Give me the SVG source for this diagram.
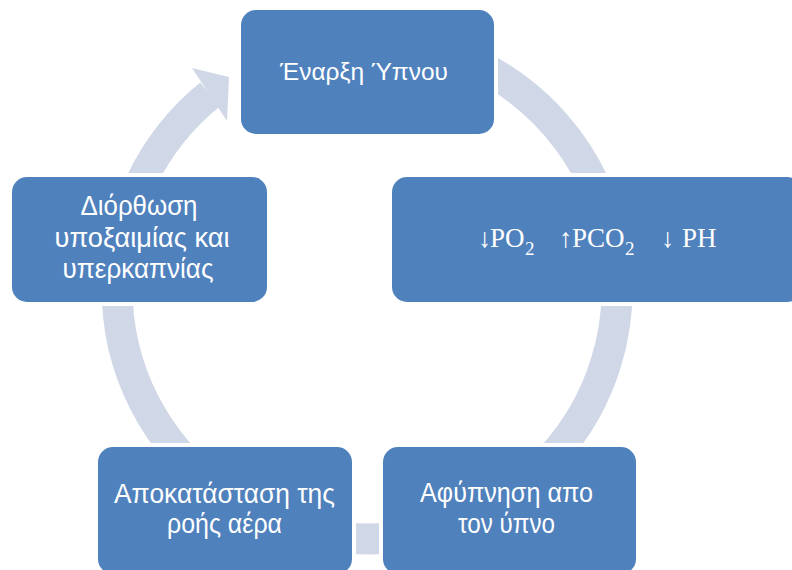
<svg xmlns="http://www.w3.org/2000/svg" width="792" height="570" viewBox="0 0 792 570">
<style>
.box{fill:#4F81BD;stroke:#FFFFFF;stroke-width:8;paint-order:stroke}
.t{font-family:"Liberation Sans","Noto Sans",sans-serif;font-size:27px;fill:#FFFFFF;text-anchor:middle}
.s{font-family:"Liberation Serif","DejaVu Serif",serif;font-size:27px;fill:#FFFFFF}
.sub{font-size:19px}
.ring{fill:none;stroke:#D0D7E7;stroke-width:31}
</style>
<rect width="792" height="570" fill="#FFFFFF"/>
<g id="connectors">
<path class="ring" d="M 367 39 A 250 250 0 1 1 210 94.5"/>
<polygon points="192,68 229,77 227,121" fill="#D0D7E7"/>
</g>
<g id="node-start">
<rect class="box" x="241" y="10" width="253" height="124" rx="15"/>
<text class="t" x="364" y="80" style="font-size:24.5px" textLength="168" lengthAdjust="spacingAndGlyphs">Έναρξη Ύπνου</text>
</g>
<g id="node-gases">
<rect class="box" x="392" y="177" width="410" height="125" rx="15"/>
<text class="s" y="247"><tspan x="478">↓</tspan><tspan x="490">PO</tspan><tspan class="sub" x="525" y="255">2</tspan><tspan x="559" y="247">↑</tspan><tspan x="572">PCO</tspan><tspan class="sub" x="625" y="255">2</tspan><tspan x="661" y="247">↓</tspan><tspan x="682">PH</tspan></text>
</g>
<g id="node-arousal">
<rect class="box" x="383" y="447" width="253" height="127" rx="15"/>
<text class="t" x="506.5" y="502" textLength="173" lengthAdjust="spacingAndGlyphs">Αφύπνηση απο</text>
<text class="t" x="506.5" y="533" textLength="97" lengthAdjust="spacingAndGlyphs">τον ύπνο</text>
</g>
<g id="node-airflow">
<rect class="box" x="98" y="447" width="254" height="127" rx="15"/>
<text class="t" x="224.5" y="503" textLength="221" lengthAdjust="spacingAndGlyphs">Αποκατάσταση της</text>
<text class="t" x="224.5" y="533" textLength="115" lengthAdjust="spacingAndGlyphs">ροής αέρα</text>
</g>
<g id="node-correction">
<rect class="box" x="12" y="177" width="255" height="125" rx="15"/>
<text class="t" x="139" y="215" textLength="117" lengthAdjust="spacingAndGlyphs">Διόρθωση</text>
<text class="t" x="142" y="247" textLength="175" lengthAdjust="spacingAndGlyphs">υποξαιμίας και</text>
<text class="t" x="138" y="278" textLength="151" lengthAdjust="spacingAndGlyphs">υπερκαπνίας</text>
</g>
</svg>
